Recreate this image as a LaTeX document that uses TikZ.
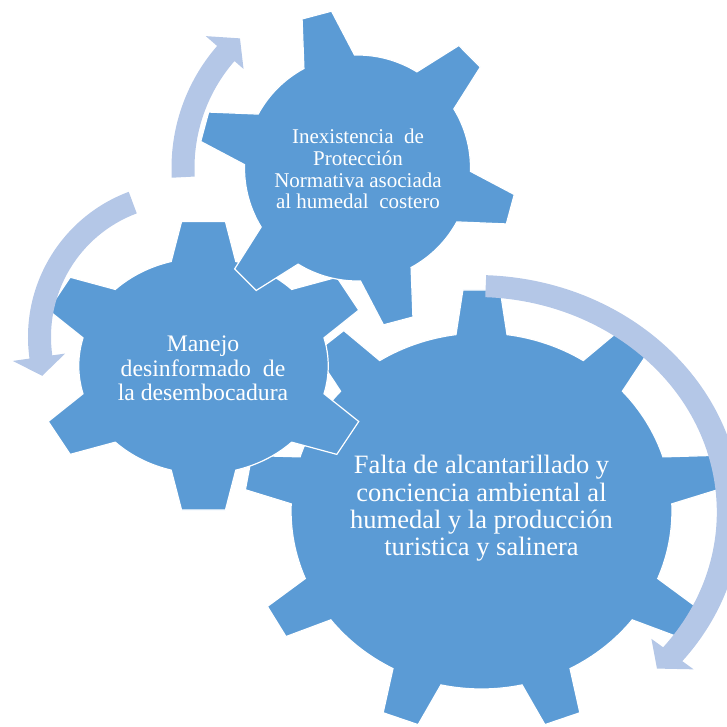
\documentclass[tikz,border=0pt]{standalone}
\usepackage{fontspec}
\setmainfont{Liberation Serif}
\usepackage{xcolor}
\usepackage{tikz}

\definecolor{gearblue}{HTML}{5B9BD5}
\definecolor{arrowblue}{HTML}{B4C7E7}

% gear: first tooth angle, teeth, body radius, tip radius,
% half angle of a tooth at the body, half angle at the tip
\newcommand{\gearoutline}[6]{%
  \pgfmathsetmacro{\gstep}{360/#2}%
  \pgfmathtruncatemacro{\glast}{#2-1}%
  \path[gear] (#1-#5:#3pt)
    \foreach \k in {0,...,\glast}{
      -- (#1+\k*\gstep-#6:#4pt) -- (#1+\k*\gstep+#6:#4pt) -- (#1+\k*\gstep+#5:#3pt)
      arc[start angle=#1+\k*\gstep+#5, end angle=#1+\k*\gstep+\gstep-#5, radius=#3pt]
    } -- cycle;}

% curved arrow: tail angle, end of band, tip angle, band inner/outer radius,
% barb inner/outer radius, tip radius
\newcommand{\turnarrow}[8]{%
  \path[turn arrow] (#1:#5pt) arc[start angle=#1, end angle=#2, radius=#5pt]
    -- (#2:#7pt) -- (#3:#8pt) -- (#2:#6pt) -- (#2:#4pt)
    arc[start angle=#2, end angle=#1, radius=#4pt] -- cycle;}

\begin{document}
\begin{tikzpicture}[x=1pt,y=1pt,
    gear/.style={fill=gearblue, draw=white, line width=1.2pt},
    turn arrow/.style={fill=arrowblue},
    gear text/.style={text=white, align=center, inner sep=0pt}]
  \useasboundingbox (0,0) rectangle (727,-727);
  \clip (0,0) rectangle (727,-727);

  % Gears
  \begin{scope}[shift={(481.5,-511)}, xscale=1.07]
    \gearoutline{90}{9}{178}{221.7}{7.7}{4.5}
  \end{scope}
  \begin{scope}[shift={(203.5,-365.8)}, xscale=1.155]
    \gearoutline{90}{6}{108}{145.5}{15}{7.5}
  \end{scope}
  \begin{scope}[shift={(357.5,-168)}]
    \gearoutline{104.9}{6}{113}{159}{13.4}{5.5}
  \end{scope}

  % Arrows
  \begin{scope}[shift={(476,-512)}, xscale=1.12]
    \turnarrow{87.8}{-39}{-44.1}{215}{237}{201.5}{250}{225}
  \end{scope}
  \begin{scope}[shift={(183,-337)}]
    \turnarrow{110.5}{188}{195.4}{132}{155}{119}{172}{146}
  \end{scope}
  \begin{scope}[shift={(357.5,-168)}]
    \turnarrow{183}{139}{132.2}{163}{186}{151}{201}{175}
  \end{scope}

  % Labels
  \node[gear text, font=\fontsize{26.5}{27.4}\selectfont] (falta) at (481.5,-508.4)
    {Falta de alcantarillado y\\conciencia ambiental al\\humedal y la producción\\turistica y salinera};
  \node[gear text, font=\fontsize{23.7}{24.5}\selectfont] (manejo) at (203,-368.6)
    {Manejo\\desinformado~ de\\la desembocadura};
  \node[gear text, font=\fontsize{21}{21.7}\selectfont] (inexistencia) at (358,-169.2)
    {Inexistencia~ de\\Protección\\Normativa asociada\\al humedal~ costero};
\end{tikzpicture}
\end{document}
